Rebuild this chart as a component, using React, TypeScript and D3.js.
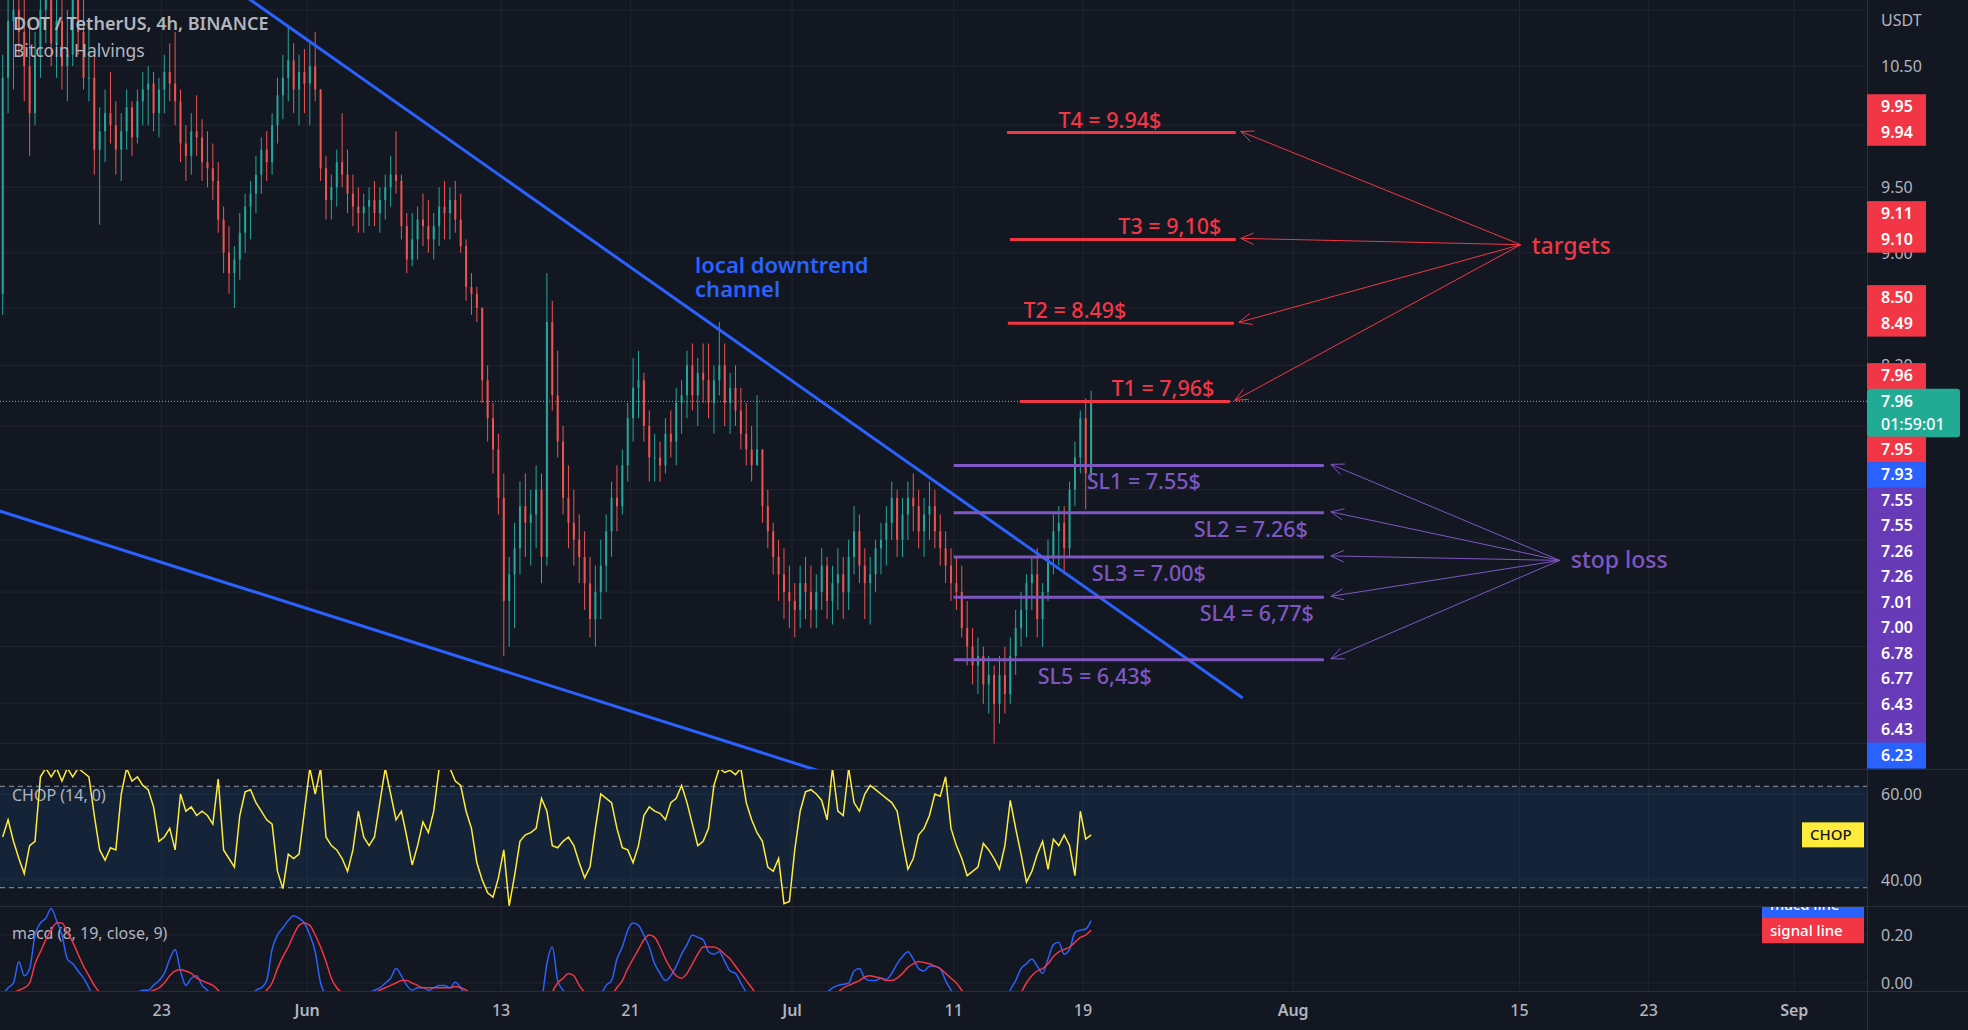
import { useEffect } from "react";
import * as d3 from "d3";

const W = 1968;
const H = 1030;
const PLOT_R = 1867;
const MAIN_B = 769;
const CHOP_T = 769;
const CHOP_B = 906;
const MACD_T = 906;
const MACD_B = 991;

const BG = "#131722";
const GRID = "#212530";
const BORDER = "#2a2e39";
const TEXT = "#b2b5be";
const UP = "#26a69a";
const DOWN = "#ef5350";
const BLUE = "#2962ff";
const RED = "#f23645";
const PURPLE = "#7e57c2";
const PURPLE_TAG = "#673ab7";
const FONT = "'Noto Sans', 'Open Sans', sans-serif";

// days are counted from 1 Jun 2022 (UTC)
const JUN1 = Date.UTC(2022, 5, 1);
const day = (n: number) => new Date(JUN1 + n * 86400000);

const symbolTitle = "DOT / TetherUS, 4h, BINANCE";
const studyTitle = "Bitcoin Halvings";
const chopTitle = "CHOP (14, 0)";
const macdTitle = "macd (8, 19, close, 9)";

// candles, one every 8h starting 13 May
const firstOpen = 8.7;
const highs = [
  10.6, 11.4, 11.5, 11.6, 11.2, 10.9, 10.8, 11.3, 11.5, 11.4,
  11.2, 11.3, 11.0, 11.4, 11.6, 11.1, 10.9, 10.6, 10.15, 10.3,
  10.45, 10.2, 10.1, 10.3, 10.2, 10.3, 10.45, 10.5, 10.45, 10.4,
  10.6, 10.7, 10.8, 10.3, 10.0, 10.1, 10.25, 10.05, 9.95, 9.85,
  9.7, 9.35, 9.2, 9.05, 9.3, 9.45, 9.55, 9.75, 9.9, 9.95,
  10.1, 10.4, 10.6, 10.85, 10.7, 10.6, 10.65, 10.7, 10.8, 10.3,
  9.75, 9.6, 9.8, 10.1, 9.8, 9.6, 9.5, 9.45, 9.5, 9.55,
  9.5, 9.6, 9.75, 9.95, 9.6, 9.3, 9.3, 9.35, 9.45, 9.4,
  9.3, 9.5, 9.55, 9.5, 9.55, 9.45, 9.1, 8.85, 8.75, 8.6,
  8.2, 7.95, 7.75, 7.5, 7.0, 7.2, 7.45, 7.5, 7.4, 7.55,
  7.5, 8.85, 8.65, 8.3, 7.8, 7.55, 7.4, 7.25, 7.15, 7.0,
  6.95, 7.1, 7.25, 7.45, 7.55, 7.65, 7.95, 8.25, 8.3, 8.15,
  7.9, 7.75, 7.7, 7.85, 7.9, 8.05, 8.1, 8.3, 8.35, 8.25,
  8.35, 8.35, 8.2, 8.5, 8.35, 8.15, 8.2, 8.05, 7.95, 7.8,
  8.0, 7.65, 7.4, 7.2, 7.1, 7.05, 6.95, 6.85, 6.95, 7.0,
  6.95, 6.9, 7.05, 7.0, 6.95, 7.05, 7.0, 7.1, 7.3, 7.25,
  7.05, 7.0, 7.1, 7.2, 7.3, 7.45, 7.4, 7.35, 7.45, 7.5,
  7.4, 7.35, 7.45, 7.4, 7.25, 7.15, 7.05, 7.0, 6.95, 6.75,
  6.6, 6.55, 6.5, 6.45, 6.4, 6.45, 6.5, 6.55, 6.7, 6.8,
  6.9, 7.0, 7.05, 6.85, 7.1, 7.25, 7.3, 7.3, 7.45, 7.7,
  7.9, 7.98, 8.03,
];
const lows = [
  8.55, 10.1, 10.3, 10.6, 10.2, 9.75, 10.0, 10.4, 10.7, 10.5,
  10.4, 10.3, 10.2, 10.5, 10.6, 10.3, 10.2, 9.6, 9.21, 9.7,
  9.85, 9.6, 9.55, 9.8, 9.75, 9.85, 10.0, 10.0, 9.95, 9.9,
  10.1, 10.2, 10.0, 9.7, 9.55, 9.6, 9.75, 9.55, 9.5, 9.4,
  9.15, 8.85, 8.7, 8.6, 8.8, 9.0, 9.1, 9.3, 9.45, 9.55,
  9.6, 9.85, 10.05, 10.2, 10.1, 10.0, 10.1, 10.0, 10.2, 9.55,
  9.25, 9.25, 9.35, 9.5, 9.3, 9.2, 9.15, 9.15, 9.2, 9.2,
  9.15, 9.25, 9.35, 9.45, 9.1, 8.85, 8.9, 8.95, 9.05, 9.0,
  8.95, 9.05, 9.1, 9.1, 9.15, 9.0, 8.65, 8.55, 8.5, 7.95,
  7.7, 7.5, 7.25, 6.45, 6.5, 6.6, 6.9, 7.0, 6.95, 7.05,
  6.85, 6.95, 7.9, 7.6, 7.25, 7.05, 6.95, 6.85, 6.7, 6.55,
  6.5, 6.65, 6.8, 7.0, 7.15, 7.25, 7.45, 7.7, 7.85, 7.7,
  7.45, 7.45, 7.45, 7.5, 7.6, 7.55, 7.75, 7.85, 7.9, 7.8,
  7.95, 7.85, 7.75, 8.0, 7.8, 7.75, 7.8, 7.65, 7.55, 7.45,
  7.55, 7.2, 7.05, 6.9, 6.75, 6.65, 6.6, 6.55, 6.6, 6.65,
  6.6, 6.6, 6.7, 6.65, 6.62, 6.7, 6.65, 6.7, 6.9, 6.85,
  6.65, 6.62, 6.8, 6.9, 6.95, 7.1, 7.0, 7.0, 7.1, 7.15,
  7.05, 7.0, 7.1, 7.05, 6.95, 6.85, 6.75, 6.7, 6.55, 6.4,
  6.3, 6.25, 6.2, 6.15, 6.0, 6.1, 6.15, 6.2, 6.35, 6.5,
  6.55, 6.7, 6.55, 6.5, 6.75, 6.9, 6.95, 6.9, 7.0, 7.3,
  7.5, 7.28, 7.45,
];
const closes = [
  10.4, 10.9, 11.0, 10.8, 10.5, 10.1, 10.6, 11.0, 11.2, 10.7,
  10.9, 10.5, 10.6, 11.1, 10.8, 10.4, 10.4, 9.8, 9.95, 10.1,
  10.0, 9.8, 9.95, 10.15, 9.9, 10.2, 10.3, 10.35, 10.1, 10.3,
  10.45, 10.35, 10.2, 9.85, 9.75, 9.95, 9.9, 9.7, 9.65, 9.55,
  9.25, 9.0, 8.85, 8.95, 9.15, 9.35, 9.45, 9.6, 9.8, 9.7,
  10.0, 10.25, 10.4, 10.55, 10.3, 10.45, 10.35, 10.5, 10.3, 9.65,
  9.4, 9.5, 9.7, 9.6, 9.45, 9.35, 9.3, 9.35, 9.4, 9.3,
  9.4, 9.5, 9.6, 9.55, 9.2, 8.95, 9.1, 9.25, 9.2, 9.1,
  9.2, 9.35, 9.3, 9.4, 9.25, 9.05, 8.75, 8.7, 8.6, 8.1,
  7.85, 7.65, 7.35, 6.75, 6.9, 7.05, 7.3, 7.2, 7.25, 7.4,
  7.0, 8.5, 8.0, 7.7, 7.35, 7.2, 7.1, 7.0, 6.85, 6.65,
  6.8, 6.95, 7.15, 7.35, 7.3, 7.55, 7.85, 8.05, 8.1, 7.8,
  7.6, 7.6, 7.55, 7.75, 7.7, 7.95, 8.0, 8.2, 8.0, 8.15,
  8.1, 7.95, 8.1, 8.2, 7.95, 8.05, 7.9, 7.75, 7.65, 7.55,
  7.65, 7.3, 7.15, 7.0, 6.9, 6.8, 6.75, 6.7, 6.85, 6.8,
  6.7, 6.8, 6.95, 6.75, 6.85, 6.9, 6.8, 7.0, 7.15, 6.95,
  6.85, 6.9, 7.05, 7.1, 7.2, 7.35, 7.1, 7.25, 7.35, 7.3,
  7.15, 7.25, 7.3, 7.15, 7.05, 6.95, 6.85, 6.8, 6.6, 6.5,
  6.4, 6.45, 6.3, 6.35, 6.2, 6.35, 6.25, 6.45, 6.6, 6.7,
  6.85, 6.9, 6.65, 6.8, 7.0, 7.15, 7.2, 7.05, 7.4, 7.6,
  7.85, 7.5, 7.96,
];

const chopValues = [
  50, 54, 49, 45, 41.5, 48, 49, 64, 66, 64,
  66, 63, 66, 64, 66, 65, 64, 55, 47, 44.6,
  47.5, 47, 60, 66, 63, 64, 62, 61, 57, 49,
  50, 52, 47, 60, 56, 57, 55, 56, 55, 53,
  63.5, 47, 45, 43, 55, 60.5, 61, 58, 56, 54,
  53, 42, 38, 46, 45, 46, 56, 66, 60, 66,
  50, 48, 47, 45, 42, 47, 56, 50, 48, 50,
  58, 66, 60, 54, 56, 50, 43.5, 48, 53.5, 51,
  56, 66, 66, 66, 63, 62, 56, 52, 44, 40,
  37, 36, 40.5, 47, 34, 41, 49, 50.5, 51, 52,
  59, 56, 48, 47.5, 49, 50, 48, 44, 40.5, 43,
  52, 60, 59, 58, 52, 47.5, 47, 44, 48, 55,
  57, 56, 55.5, 54, 58, 59, 62, 58, 53, 48,
  49, 52, 62, 66, 65, 65.5, 64.5, 66, 58, 54,
  51, 49, 43, 42, 45, 34.5, 35, 47, 56, 60.5,
  61, 60, 58.5, 54, 66, 56, 55, 66, 58, 56,
  60, 62, 61, 60, 59, 58, 56, 49, 42.5, 45,
  50.5, 52, 55, 60, 59.5, 64, 52, 48, 45, 41,
  42, 43, 48.5, 47, 45, 42.5, 48, 58.5, 52, 46,
  39.5, 42, 46, 49, 42.5, 49.5, 48, 50.5, 48, 41,
  56, 49.5, 50.5,
];

const macdValues = [
  -0.05, -0.02, 0.0, 0.09, 0.03, 0.06, 0.2, 0.25, 0.27, 0.31,
  0.26, 0.2, 0.1, 0.08, 0.05, 0.02, -0.02, -0.08, -0.12, -0.15,
  -0.14, -0.12, -0.1, -0.08, -0.06, -0.04, -0.03, -0.03, -0.01, 0.01,
  0.04, 0.1, 0.14, 0.05, -0.01, 0.02, 0.03, -0.01, -0.03, -0.06,
  -0.12, -0.18, -0.2, -0.18, -0.15, -0.1, -0.07, -0.03, -0.02, 0.01,
  0.14, 0.2, 0.23, 0.26, 0.28, 0.27, 0.25, 0.2, 0.13, 0.0,
  -0.05, -0.08, -0.07, -0.06, -0.06, -0.07, -0.06, -0.05, -0.04, -0.03,
  -0.02, 0.0, 0.02, 0.06, 0.03, -0.01, -0.03, -0.02, -0.02, -0.03,
  -0.02, -0.01, -0.01, -0.02, 0.003, -0.02, -0.06, -0.1, -0.15, -0.22,
  -0.3, -0.35, -0.4, -0.5, -0.5, -0.45, -0.38, -0.3, -0.22, -0.15,
  -0.08, 0.08, 0.15, 0.01, -0.03, -0.06, -0.1, -0.12, -0.15, -0.14,
  -0.1, -0.05, -0.01, 0.01, 0.1, 0.15, 0.22, 0.25, 0.24, 0.2,
  0.15, 0.08, 0.04, 0.01, 0.03, 0.07, 0.12, 0.16, 0.2, 0.19,
  0.18, 0.13, 0.12, 0.13, 0.09, 0.05, 0.04, 0.0, -0.04, -0.08,
  -0.12, -0.17, -0.2, -0.24, -0.26, -0.26, -0.24, -0.22, -0.19, -0.15,
  -0.12, -0.09, -0.06, -0.04, -0.02, -0.01, -0.005, 0.0, 0.05, 0.06,
  0.02, 0.01, 0.01, 0.02, 0.015, 0.04, 0.08, 0.11, 0.13, 0.1,
  0.06, 0.05, 0.07, 0.07, 0.06, 0.01, -0.03, -0.06, -0.1, -0.14,
  -0.18, -0.2, -0.22, -0.22, -0.2, -0.16, -0.1, -0.03, 0.01, 0.06,
  0.08, 0.1, 0.07, 0.04, 0.1, 0.16, 0.17, 0.12, 0.14, 0.21,
  0.22, 0.225, 0.26,
];
const signalValues = [
  -0.05, -0.05, -0.04, -0.03, -0.02, 0.0, 0.08, 0.13, 0.18, 0.22,
  0.25, 0.25, 0.21, 0.17, 0.12, 0.07, 0.03, -0.01, -0.04, -0.07,
  -0.09, -0.1, -0.1, -0.09, -0.08, -0.06, -0.05, -0.04, -0.03, -0.02,
  0.0, 0.03, 0.05, 0.055, 0.05, 0.04, 0.02, 0.01, 0.0, -0.01,
  -0.03, -0.06, -0.09, -0.12, -0.13, -0.13, -0.11, -0.09, -0.06, -0.03,
  0.0, 0.06, 0.11, 0.15, 0.2, 0.24, 0.25, 0.24, 0.2, 0.15,
  0.09, 0.02, -0.02, -0.04, -0.05, -0.05, -0.05, -0.05, -0.04, -0.04,
  -0.03, -0.02, -0.01, 0.0, 0.01, 0.01, 0.0, -0.01, -0.02, -0.02,
  -0.02, -0.02, -0.02, -0.02, -0.015, -0.02, -0.03, -0.05, -0.08, -0.12,
  -0.17, -0.22, -0.28, -0.33, -0.37, -0.39, -0.38, -0.35, -0.31, -0.27,
  -0.2, -0.12, -0.04, 0.0, 0.02, 0.04, 0.03, -0.01, -0.04, -0.07,
  -0.09, -0.09, -0.07, -0.05, -0.02, 0.01, 0.06, 0.1, 0.14, 0.18,
  0.2, 0.19, 0.15, 0.1, 0.06, 0.03, 0.02, 0.04, 0.08, 0.12,
  0.15, 0.15, 0.15, 0.14, 0.12, 0.1, 0.07, 0.04, 0.01, -0.02,
  -0.05, -0.08, -0.11, -0.14, -0.17, -0.2, -0.21, -0.22, -0.21, -0.2,
  -0.18, -0.15, -0.12, -0.09, -0.06, -0.04, -0.02, -0.01, 0.0, 0.01,
  0.025, 0.03, 0.025, 0.02, 0.01, 0.01, 0.02, 0.04, 0.065, 0.08,
  0.09, 0.085, 0.08, 0.07, 0.06, 0.04, 0.02, 0.0, -0.03, -0.06,
  -0.09, -0.12, -0.14, -0.16, -0.17, -0.17, -0.15, -0.12, -0.08, -0.04,
  0.0, 0.03, 0.05, 0.06, 0.08, 0.11, 0.13, 0.14, 0.15, 0.17,
  0.19, 0.2, 0.22,
];

const priceGrid = [11, 10.5, 10, 9.5, 9, 8.6, 8.2, 7.8, 7.4, 7.1, 6.8, 6.5, 6.2, 6.0];
const chopTicks = [60, 40];
const chopBands = [61.8, 38.2];
const macdTicks = [0.2, 0];

const timeTicks = [
  { d: -9, label: "23", month: false },
  { d: 0, label: "Jun", month: true },
  { d: 12, label: "13", month: false },
  { d: 20, label: "21", month: false },
  { d: 30, label: "Jul", month: true },
  { d: 40, label: "11", month: false },
  { d: 48, label: "19", month: false },
  { d: 61, label: "Aug", month: true },
  { d: 75, label: "15", month: false },
  { d: 83, label: "23", month: false },
  { d: 92, label: "Sep", month: true },
];

const lastPrice = 7.96;
const countdown = "01:59:01";

const upperTrend = [
  { d: 32.2, p: 7.93 },
  { d: 57.88, p: 6.23 },
];
const lowerTrend = [
  { d: -19, p: 7.27 },
  { d: 31.1, p: 5.88 },
];
const channelNote = { lines: ["local downtrend", "channel"], d: 24.0, p: 8.85 };

const targetLines = [
  { label: "T4 = 9.94$", p: 9.94, from: 43.3, to: 57.45, textAt: 49.66 },
  { label: "T3 = 9,10$", p: 9.1, from: 43.48, to: 57.45, textAt: 53.37 },
  { label: "T2 = 8.49$", p: 8.49, from: 43.35, to: 57.33, textAt: 47.5 },
  { label: "T1 = 7,96$", p: 7.96, from: 44.09, to: 57.08, textAt: 52.94 },
];
const stopLines = [
  { label: "SL1 = 7.55$", p: 7.55, from: 40.0, to: 62.9, textAt: 51.76 },
  { label: "SL2 = 7.26$", p: 7.26, from: 40.0, to: 62.9, textAt: 58.38 },
  { label: "SL3 = 7.00$", p: 7.0, from: 40.0, to: 62.9, textAt: 52.07 },
  { label: "SL4 = 6,77$", p: 6.77, from: 40.0, to: 62.9, textAt: 58.75 },
  { label: "SL5 = 6,43$", p: 6.43, from: 40.0, to: 62.9, textAt: 48.73 },
];
const targetsNote = { text: "targets", d: 75.08, p: 9.06 };
const stopNote = { text: "stop loss", d: 77.49, p: 6.98 };

// price scale tags, top to bottom
const axisTags = [
  { p: 9.95, kind: "target" },
  { p: 9.94, kind: "target" },
  { p: 9.11, kind: "target" },
  { p: 9.1, kind: "target" },
  { p: 8.5, kind: "target" },
  { p: 8.49, kind: "target" },
  { p: 7.96, kind: "target" },
  { p: 7.96, kind: "last" },
  { p: 7.95, kind: "target" },
  { p: 7.93, kind: "trend" },
  { p: 7.55, kind: "stop" },
  { p: 7.55, kind: "stop" },
  { p: 7.26, kind: "stop" },
  { p: 7.26, kind: "stop" },
  { p: 7.01, kind: "stop" },
  { p: 7.0, kind: "stop" },
  { p: 6.78, kind: "stop" },
  { p: 6.77, kind: "stop" },
  { p: 6.43, kind: "stop" },
  { p: 6.43, kind: "stop" },
  { p: 6.23, kind: "trend" },
];
const tagColors: Record<string, string> = {
  target: RED,
  last: "#22ab94",
  trend: BLUE,
  stop: PURPLE_TAG,
};

const x = d3.scaleUtc().domain([day(-19), day(96.5)]).range([0, PLOT_R]);
const y = d3.scaleLog().domain([11.09, 5.875]).range([0, MAIN_B]);
const yChop = d3.scaleLinear().domain([40, 60]).range([880, 794]);
const yMacd = d3.scaleLinear().domain([0, 0.2]).range([983, 935]);
const candleDate = (i: number) => day(-19 + i / 3 + 1 / 6);

function extendLine(a: { d: number; p: number }, b: { d: number; p: number }, toTopLeft: boolean) {
  const x1 = x(day(a.d)), y1 = y(a.p), x2 = x(day(b.d)), y2 = y(b.p);
  const dx = x2 - x1, dy = y2 - y1;
  if (toTopLeft) {
    const t = (-10 - y1) / dy;
    return [x1 + t * dx, -10, x2, y2];
  }
  const t0 = (-10 - x1) / dx;
  const t1 = (MAIN_B + 10 - y1) / dy;
  return [x1 + t0 * dx, y1 + t0 * dy, x1 + t1 * dx, y1 + t1 * dy];
}

function Arrow({ ox, oy, tx, ty, color }: { ox: number; oy: number; tx: number; ty: number; color: string }) {
  const ang = Math.atan2(oy - ty, ox - tx);
  const L = 14;
  const w1 = [tx + L * Math.cos(ang + 0.42), ty + L * Math.sin(ang + 0.42)];
  const w2 = [tx + L * Math.cos(ang - 0.42), ty + L * Math.sin(ang - 0.42)];
  return (
    <g stroke={color} strokeWidth={1} fill="none">
      <line x1={ox} y1={oy} x2={tx} y2={ty} />
      <polyline points={`${w1[0]},${w1[1]} ${tx},${ty} ${w2[0]},${w2[1]}`} />
    </g>
  );
}

export default function App() {
  useEffect(() => {
    document.body.style.margin = "0";
    document.body.style.background = BG;
  }, []);

  const candles = closes.map((c, i) => {
    const o = i === 0 ? firstOpen : closes[i - 1];
    const h = Math.max(highs[i], o, c);
    const l = Math.min(lows[i], o, c);
    return { o, h, l, c, cx: x(candleDate(i)) };
  });

  const chopLine = d3
    .line<number>()
    .x((_, i) => x(candleDate(i)))
    .y((v) => yChop(v))(chopValues);
  const macdPath = d3
    .line<number>()
    .x((_, i) => x(candleDate(i)))
    .y((v) => yMacd(v))
    .curve(d3.curveMonotoneX)(macdValues);
  const signalPath = d3
    .line<number>()
    .x((_, i) => x(candleDate(i)))
    .y((v) => yMacd(v))
    .curve(d3.curveMonotoneX)(signalValues);

  const up = extendLine(upperTrend[0], upperTrend[1], true);
  const lo = extendLine(lowerTrend[0], lowerTrend[1], false);

  // stack price tags the way the price scale does: the last-price tag stays put
  const TAG_H = 25.5;
  const tags = axisTags.map((t) => ({ ...t, h: t.kind === "last" ? 48 : TAG_H }));
  const anchor = tags.findIndex((t) => t.kind === "last");
  const tops = tags.map((t) => y(t.p) - TAG_H / 2);
  for (let j = anchor - 1; j >= 0; j--) tops[j] = Math.min(tops[j], tops[j + 1] - tags[j].h);
  for (let j = anchor + 1; j < tags.length; j++) tops[j] = Math.max(tops[j], tops[j - 1] + tags[j - 1].h);

  // an axis label fully hidden behind the tags is not drawn
  const covered = (cy: number) => {
    const a = cy - 6, b = cy + 6;
    let reach = a;
    const spans = tags.map((t, j) => [tops[j], tops[j] + t.h]).sort((m, n) => m[0] - n[0]);
    for (const [s, e] of spans) {
      if (s <= reach && e > reach) reach = e;
    }
    return reach >= b;
  };

  // indicator value labels
  const signalCy = yMacd(signalValues[signalValues.length - 1]);
  const macdCy = Math.min(yMacd(macdValues[macdValues.length - 1]), signalCy - 26);
  const chopCy = yChop(chopValues[chopValues.length - 1]);

  const tOrigin = { x: x(day(targetsNote.d)), y: y(targetsNote.p) };
  const sOrigin = { x: x(day(stopNote.d)), y: y(stopNote.p) };

  return (
    <svg
      width={W}
      height={H}
      style={{ position: "absolute", left: 0, top: 0, display: "block", fontFamily: FONT }}
    >
      <defs>
        <clipPath id="clip-main">
          <rect x={0} y={0} width={PLOT_R} height={MAIN_B} />
        </clipPath>
        <clipPath id="clip-chop">
          <rect x={0} y={CHOP_T} width={PLOT_R} height={CHOP_B - CHOP_T} />
        </clipPath>
        <clipPath id="clip-macd">
          <rect x={0} y={MACD_T} width={W} height={MACD_B - MACD_T} />
        </clipPath>
      </defs>
      <rect width={W} height={H} fill={BG} />

      {/* grid */}
      <g stroke={GRID} strokeWidth={1}>
        {priceGrid.map((p) => (
          <line key={p} x1={0} x2={PLOT_R} y1={y(p)} y2={y(p)} />
        ))}
        {chopTicks.map((v) => (
          <line key={"c" + v} x1={0} x2={PLOT_R} y1={yChop(v)} y2={yChop(v)} />
        ))}
        {macdTicks.map((v) => (
          <line key={"m" + v} x1={0} x2={PLOT_R} y1={yMacd(v)} y2={yMacd(v)} />
        ))}
        {timeTicks.map((t) => (
          <line key={t.label + t.d} x1={x(day(t.d))} x2={x(day(t.d))} y1={0} y2={MACD_B} />
        ))}
      </g>

      {/* CHOP band */}
      <g clipPath="url(#clip-chop)">
        <rect
          x={0}
          width={PLOT_R}
          y={yChop(chopBands[0])}
          height={yChop(chopBands[1]) - yChop(chopBands[0])}
          fill="rgba(33,150,243,0.1)"
        />
        {chopBands.map((v) => (
          <line key={v} x1={0} x2={PLOT_R} y1={yChop(v)} y2={yChop(v)} stroke="#9598a1" strokeDasharray="5,4" />
        ))}
      </g>

      {/* candles */}
      <g clipPath="url(#clip-main)">
        {candles.map((k, i) => {
          const col = k.c >= k.o ? UP : DOWN;
          const top = y(Math.max(k.o, k.c));
          const bot = y(Math.min(k.o, k.c));
          return (
            <g key={i}>
              <line x1={k.cx} x2={k.cx} y1={y(k.h)} y2={y(k.l)} stroke={col} strokeWidth={1} />
              <rect x={k.cx - 1} width={2} y={top} height={Math.max(1, bot - top)} fill={col} />
            </g>
          );
        })}

        {/* trend channel */}
        <line x1={up[0]} y1={up[1]} x2={up[2]} y2={up[3]} stroke={BLUE} strokeWidth={3} />
        <line x1={lo[0]} y1={lo[1]} x2={lo[2]} y2={lo[3]} stroke={BLUE} strokeWidth={3} />

        {/* last price */}
        <line
          x1={0}
          x2={PLOT_R}
          y1={y(lastPrice)}
          y2={y(lastPrice)}
          stroke="#9aa0ab"
          strokeWidth={1}
          strokeDasharray="1,2"
        />

        {/* targets */}
        {targetLines.map((t) => (
          <g key={t.label}>
            <line x1={x(day(t.from))} x2={x(day(t.to))} y1={y(t.p)} y2={y(t.p)} stroke={RED} strokeWidth={3} />
            <text
              x={x(day(t.textAt))}
              y={y(t.p) - 5}
              textAnchor="middle"
              fill={RED}
              fontSize={21.5}
              fontWeight={500}
            >
              {t.label}
            </text>
            <Arrow ox={tOrigin.x} oy={tOrigin.y} tx={x(day(t.to)) + 5} ty={y(t.p) - 1} color={RED} />
          </g>
        ))}
        <text x={tOrigin.x + 11} y={tOrigin.y + 9} fill={RED} fontSize={23} fontWeight={500}>
          {targetsNote.text}
        </text>

        {/* stop losses */}
        {stopLines.map((s) => (
          <g key={s.label}>
            <line x1={x(day(s.from))} x2={x(day(s.to))} y1={y(s.p)} y2={y(s.p)} stroke={PURPLE} strokeWidth={3} />
            <text
              x={x(day(s.textAt))}
              y={y(s.p) + 24}
              textAnchor="middle"
              fill={PURPLE}
              fontSize={21.5}
              fontWeight={500}
            >
              {s.label}
            </text>
            <Arrow ox={sOrigin.x} oy={sOrigin.y} tx={x(day(s.to)) + 7} ty={y(s.p) - 1} color={PURPLE} />
          </g>
        ))}
        <text x={sOrigin.x + 11} y={sOrigin.y + 8} fill={PURPLE} fontSize={23} fontWeight={500}>
          {stopNote.text}
        </text>

        <text x={x(day(channelNote.d))} y={y(channelNote.p)} fill={BLUE} fontSize={22} fontWeight={600}>
          {channelNote.lines.map((ln, i) => (
            <tspan key={ln} x={x(day(channelNote.d))} dy={i === 0 ? 0 : 24}>
              {ln}
            </tspan>
          ))}
        </text>
      </g>

      {/* titles */}
      <text x={13} y={30} fill={TEXT} fontSize={18} fontWeight={600}>
        {symbolTitle}
      </text>
      <text x={13} y={57} fill={TEXT} fontSize={17.5}>
        {studyTitle}
      </text>

      {/* CHOP */}
      <g clipPath="url(#clip-chop)">
        <text x={12} y={801} fill={TEXT} fontSize={16}>
          {chopTitle}
        </text>
        <path d={chopLine ?? ""} fill="none" stroke="#ffeb3b" strokeWidth={1.5} />
      </g>
      <rect x={1802} y={chopCy - 12.5} width={62} height={25} fill="#ffeb3b" />
      <text x={1810} y={chopCy + 5.5} fill="#131722" fontSize={15} fontWeight={500}>
        CHOP
      </text>

      {/* MACD */}
      <g clipPath="url(#clip-macd)">
        <text x={12} y={939} fill={TEXT} fontSize={16}>
          {macdTitle}
        </text>
        <path d={macdPath ?? ""} fill="none" stroke={BLUE} strokeWidth={1.5} />
        <path d={signalPath ?? ""} fill="none" stroke={RED} strokeWidth={1.5} />
        <rect x={1762} y={macdCy - 13} width={102} height={26} fill={BLUE} />
        <text x={1770} y={macdCy + 5.5} fill="#fff" fontSize={15} fontWeight={500}>
          macd line
        </text>
      </g>
      <rect x={1762} y={signalCy - 13} width={102} height={26} fill={RED} />
      <text x={1770} y={signalCy + 5.5} fill="#fff" fontSize={15} fontWeight={500}>
        signal line
      </text>

      {/* pane borders */}
      <g stroke={BORDER} strokeWidth={1}>
        <line x1={0} x2={W} y1={MAIN_B + 0.5} y2={MAIN_B + 0.5} />
        <line x1={0} x2={W} y1={CHOP_B + 0.5} y2={CHOP_B + 0.5} />
        <line x1={0} x2={W} y1={MACD_B + 0.5} y2={MACD_B + 0.5} />
        <line x1={PLOT_R + 0.5} x2={PLOT_R + 0.5} y1={0} y2={H} />
      </g>

      {/* price axis */}
      <g fill={TEXT} fontSize={16}>
        <text x={1881} y={26}>
          USDT
        </text>
        {priceGrid
          .filter((p) => y(p) > 40 && !covered(y(p)))
          .map((p) => (
            <text key={p} x={1881} y={y(p) + 6}>
              {p.toFixed(2)}
            </text>
          ))}
        {chopTicks.map((v) => (
          <text key={"c" + v} x={1881} y={yChop(v) + 6}>
            {v.toFixed(2)}
          </text>
        ))}
        {macdTicks.map((v) => (
          <text key={"m" + v} x={1881} y={yMacd(v) + 6}>
            {v.toFixed(2)}
          </text>
        ))}
      </g>

      {/* price tags */}
      {tags.map((t, j) => {
        const top = tops[j];
        const isLast = t.kind === "last";
        return (
          <g key={j}>
            <rect
              x={PLOT_R}
              y={top}
              width={isLast ? 93 : 59}
              height={t.h + 0.5}
              rx={isLast ? 3 : 0}
              fill={tagColors[t.kind]}
            />
            <text x={1881} y={top + 18} fill="#fff" fontSize={16} fontWeight={600}>
              {t.p.toFixed(2)}
            </text>
            {isLast && (
              <text x={1881} y={top + 41} fill="#fff" fontSize={16} fontWeight={500}>
                {countdown}
              </text>
            )}
          </g>
        );
      })}

      {/* time axis */}
      <g fill={TEXT} fontSize={16} textAnchor="middle">
        {timeTicks.map((t) => (
          <text key={t.label + t.d} x={x(day(t.d))} y={1016} fontWeight={t.month ? 600 : 500}>
            {t.label}
          </text>
        ))}
      </g>
    </svg>
  );
}
